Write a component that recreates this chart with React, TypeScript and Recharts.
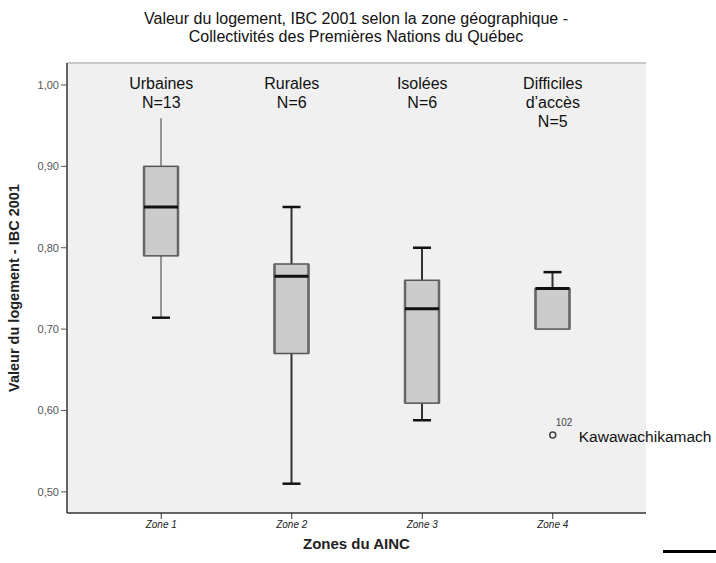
import React from 'react';
import {
  ComposedChart,
  Bar,
  Line,
  XAxis,
  YAxis,
  CartesianGrid
} from 'recharts';

const zones = ['Zone 1', 'Zone 2', 'Zone 3', 'Zone 4'];
const headers = [
  ['Urbaines', 'N=13'],
  ['Rurales', 'N=6'],
  ['Isolées', 'N=6'],
  ['Difficiles', 'd’accès', 'N=5']
];
const mins = [0.714, 0.51, 0.588, 0.7];
const q1s = [0.79, 0.67, 0.609, 0.7];
const medians = [0.85, 0.765, 0.725, 0.75];
const q3s = [0.90, 0.78, 0.76, 0.75];
const maxs = [0.959, 0.85, 0.80, 0.77];
// outlier (Zone 4)
const outliers = [null, null, null, 0.57];
const outlierIds = [null, null, null, '102'];
const outlierNames = [null, null, null, 'Kawawachikamach'];
const yTicks = [0.5, 0.6, 0.7, 0.8, 0.9, 1.0];

const data = zones.map((zone, i) => ({
  zone,
  range: [mins[i], maxs[i]],
  min: mins[i],
  q1: q1s[i],
  median: medians[i],
  q3: q3s[i],
  max: maxs[i],
  out: outliers[i],
  outId: outlierIds[i],
  outName: outlierNames[i]
}));

const FONT = '"Liberation Sans", Arial, sans-serif';

const BoxShape = (props: any) => {
  const { x, y, width, height, payload, index } = props;
  const top = Math.min(y, y + height);
  const h = Math.abs(height);
  const { min, q1, median, q3, max } = payload;
  const k = h / (max - min);
  const py = (v: number) => top + (max - v) * k;
  const cx = x + width / 2;
  const capHalf = 9;
  return (
    <g>
      {/* whiskers */}
      <line x1={cx} x2={cx} y1={py(max)} y2={py(q3)} stroke={index === 0 ? '#777' : '#333'} strokeWidth={index === 0 ? 1.5 : 2} />
      <line x1={cx} x2={cx} y1={py(q1)} y2={py(min)} stroke={index === 0 ? '#777' : '#333'} strokeWidth={index === 0 ? 1.5 : 2} />
      {index !== 0 && (
        <line x1={cx - capHalf} x2={cx + capHalf} y1={py(max)} y2={py(max)} stroke="#111" strokeWidth={2.5} />
      )}
      {py(min) - py(q1) > 1 && (
        <line x1={cx - capHalf} x2={cx + capHalf} y1={py(min)} y2={py(min)} stroke="#111" strokeWidth={2.5} />
      )}
      {/* box */}
      <rect x={x} y={py(q3)} width={width} height={Math.max(py(q1) - py(q3), 0)} fill="#cccccc" stroke="#555" strokeWidth={1.5} />
      <line x1={x} x2={x} y1={py(q3)} y2={py(q1)} stroke="#666" strokeWidth={2.5} />
      <line x1={x + width} x2={x + width} y1={py(q3)} y2={py(q1)} stroke="#666" strokeWidth={2.5} />
      {/* median */}
      <line x1={x} x2={x + width} y1={py(median)} y2={py(median)} stroke="#111" strokeWidth={3} />
    </g>
  );
};

const OutlierDot = (props: any) => {
  const { cx, cy, payload, index } = props;
  if (payload.out == null || cy == null) return <g key={`o-${index}`} />;
  return (
    <g key={`o-${index}`}>
      <circle cx={cx} cy={cy} r={3} fill="none" stroke="#444" strokeWidth={1.5} />
      <text x={cx + 3} y={cy - 9} fontSize={10} fill="#444" fontFamily={FONT}>{payload.outId}</text>
      <text x={cx + 26} y={cy + 7} fontSize={15.5} fill="#111" fontFamily={FONT}>{payload.outName}</text>
    </g>
  );
};

const HeaderTick = (props: any) => {
  const { x, y, index } = props;
  const lines = headers[index] || [];
  return (
    <text x={x} y={y} textAnchor="middle" fontSize={16} fill="#111" fontFamily={FONT}>
      {lines.map((l, i) => (
        <tspan key={i} x={x} y={y + 26 + i * 19}>{l}</tspan>
      ))}
    </text>
  );
};

export default function App() {
  return (
    <div style={{ position: 'absolute', left: 0, top: 0, width: 716, height: 563, background: '#fff', fontFamily: FONT }}>
      <div style={{ position: 'absolute', left: 0, top: 10, width: 712, textAlign: 'center', fontSize: 16, lineHeight: '18px', color: '#111' }}>
        Valeur du logement, IBC 2001 selon la zone géographique -<br />
        Collectivités des Premières Nations du Québec
      </div>
      <ComposedChart
        width={716}
        height={563}
        data={data}
        margin={{ top: 62, right: 70, left: 0, bottom: 0 }}
      >
        <CartesianGrid fill="#f0f0f0" horizontal={false} vertical={false} />
        <XAxis
          dataKey="zone"
          height={50}
          padding={{ left: 29, right: 28 }}
          axisLine={{ stroke: '#333', strokeWidth: 1.5 }}
          tickLine={{ stroke: '#333' }}
          tickSize={6}
          tick={{ fontSize: 10, fill: '#222', fontStyle: 'italic', fontFamily: FONT }}
          label={{ value: 'Zones du AINC', position: 'insideBottom', offset: 14, style: { fontSize: 15, fontWeight: 'bold', fill: '#222', fontFamily: FONT } }}
        />
        <XAxis
          xAxisId="top"
          orientation="top"
          dataKey="zone"
          height={1}
          padding={{ left: 29, right: 28 }}
          axisLine={{ stroke: '#c8c8c8', strokeWidth: 2 }}
          tickLine={false}
          tickSize={0}
          tickMargin={0}
          tick={(p: any) => <HeaderTick {...p} />}
          interval={0}
        />
        <YAxis
          type="number"
          domain={[0.474, 1.027]}
          ticks={yTicks}
          allowDataOverflow
          width={67}
          axisLine={{ stroke: '#333', strokeWidth: 1.5 }}
          tickLine={{ stroke: '#555' }}
          tickSize={6}
          tickMargin={2}
          tickFormatter={(v: number) => v.toFixed(2).replace('.', ',')}
          tick={{ fontSize: 11, fill: '#555', fontFamily: FONT }}
          label={{ value: 'Valeur du logement - IBC 2001', angle: -90, position: 'insideLeft', offset: 14, style: { textAnchor: 'middle', fontSize: 14.5, fontWeight: 'bold', fill: '#222', fontFamily: FONT } }}
        />
        <YAxis
          yAxisId="right"
          orientation="right"
          width={0}
          domain={[0, 1]}
          tick={false}
          tickLine={false}
          axisLine={{ stroke: '#a0a0a0', strokeWidth: 2 }}
        />
        <Bar dataKey="range" barSize={34} shape={<BoxShape />} isAnimationActive={false} />
        <Line dataKey="out" stroke="none" dot={OutlierDot} activeDot={false} isAnimationActive={false} />
      </ComposedChart>
      <div style={{ position: 'absolute', left: 663, top: 550, width: 53, height: 3, background: '#000' }} />
    </div>
  );
}
